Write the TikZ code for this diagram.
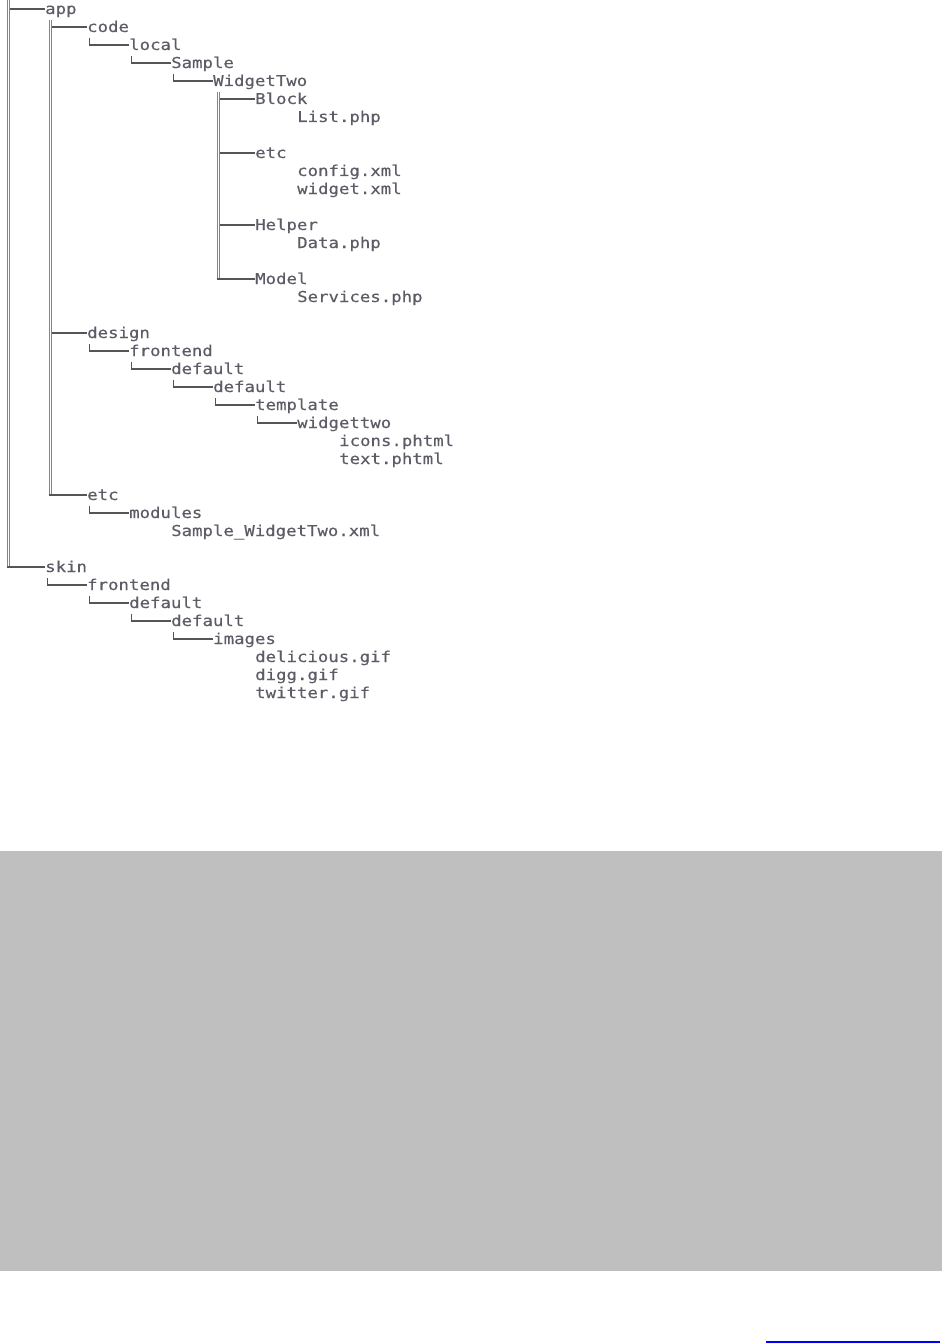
\documentclass[tikz,border=0pt]{standalone}
\usepackage{fontspec}
\setmonofont{DejaVu Sans Mono}[FakeStretch=1.157,FakeBold=0.4]
\usetikzlibrary{calc}
\definecolor{txt}{HTML}{5C5C66}
\definecolor{hcol}{HTML}{555555}
\definecolor{vcol}{HTML}{8A8480}
\definecolor{panel}{HTML}{BFBFBF}
\definecolor{linkblue}{HTML}{0000FF}
\newcommand\mytn[4]{\node[lbl] (#1) at ({45+42*(#2-1)},{14+18*(#3)}) {#4};}
\begin{document}
\begin{tikzpicture}[x=1pt,y=-1pt,
  lbl/.style={anchor=base west, inner sep=0pt, text height=11pt, text depth=1pt,
    font=\ttfamily\fontsize{15}{18}\selectfont, text=txt},
  hline/.style={draw=hcol, line width=1.2pt},
  dline/.style={draw=vcol, double=white, double distance=1.8pt, line width=1pt},
]
\useasboundingbox (0,0) rectangle (942,1343);
% lower panel and link line
\fill[panel] (0,851) rectangle (942,1271);
\coordinate (ulA) at (766,1342);
\coordinate (ulB) at (940,1342);
\draw[draw=linkblue, line width=1.3pt] (ulA) -- (ulB);

% tree labels
\mytn{app}{1}{0}{app}
\mytn{code}{2}{1}{code}
\mytn{local}{3}{2}{local}
\mytn{Sample}{4}{3}{Sample}
\mytn{WidgetTwo}{5}{4}{WidgetTwo}
\mytn{Block}{6}{5}{Block}
\mytn{listphp}{7}{6}{List.php}
\mytn{etcA}{6}{8}{etc}
\mytn{configxml}{7}{9}{config.xml}
\mytn{widgetxml}{7}{10}{widget.xml}
\mytn{Helper}{6}{12}{Helper}
\mytn{dataphp}{7}{13}{Data.php}
\mytn{Model}{6}{15}{Model}
\mytn{servicesphp}{7}{16}{Services.php}
\mytn{design}{2}{18}{design}
\mytn{feA}{3}{19}{frontend}
\mytn{dfA}{4}{20}{default}
\mytn{dfB}{5}{21}{default}
\mytn{template}{6}{22}{template}
\mytn{widgettwo}{7}{23}{widgettwo}
\mytn{icons}{8}{24}{icons.phtml}
\mytn{textph}{8}{25}{text.phtml}
\mytn{etcB}{2}{27}{etc}
\mytn{modules}{3}{28}{modules}
\mytn{samplexml}{4}{29}{Sample\_WidgetTwo.xml}
\mytn{skin}{1}{31}{skin}
\mytn{feB}{2}{32}{frontend}
\mytn{dfC}{3}{33}{default}
\mytn{dfD}{4}{34}{default}
\mytn{images}{5}{35}{images}
\mytn{delicious}{6}{36}{delicious.gif}
\mytn{digg}{6}{37}{digg.gif}
\mytn{twitter}{6}{38}{twitter.gif}

% root level double line
\coordinate (vRoot) at (8.5,0);
\draw[dline] (vRoot) -- (vRoot |- skin.west);
\draw[hline] (app.west) -- ($(vRoot |- app.west)+(1.5,0)$);
\draw[hline] (skin.west) -- ($(vRoot |- skin.west)+(-1.5,0)$);

% app children
\coordinate (vApp) at ([xshift=5.5pt,yshift=-5pt]app.south west);
\draw[dline] (vApp) -- (vApp |- etcB.west);
\draw[hline] (code.west) -- ($(vApp |- code.west)+(1.5,0)$);
\draw[hline] (design.west) -- ($(vApp |- design.west)+(1.5,0)$);
\draw[hline] (etcB.west) -- ($(vApp |- etcB.west)+(-1.5,0)$);

% WidgetTwo children
\coordinate (vWT) at ([xshift=5.5pt,yshift=-5pt]WidgetTwo.south west);
\draw[dline] (vWT) -- (vWT |- Model.west);
\draw[hline] (Block.west) -- ($(vWT |- Block.west)+(1.5,0)$);
\draw[hline] (etcA.west) -- ($(vWT |- etcA.west)+(1.5,0)$);
\draw[hline] (Helper.west) -- ($(vWT |- Helper.west)+(1.5,0)$);
\draw[hline] (Model.west) -- ($(vWT |- Model.west)+(-1.5,0)$);

% single-child corners
\foreach \c/\p in {local/code, Sample/local, WidgetTwo/Sample,
  feA/design, dfA/feA, dfB/dfA, template/dfB, widgettwo/template,
  modules/etcB, feB/skin, dfC/feB, dfD/dfC, images/dfD}{
  \draw[hline] (\c.west) -| ([xshift=2.5pt,yshift=-5pt]\p.south west);
}
\end{tikzpicture}
\end{document}
